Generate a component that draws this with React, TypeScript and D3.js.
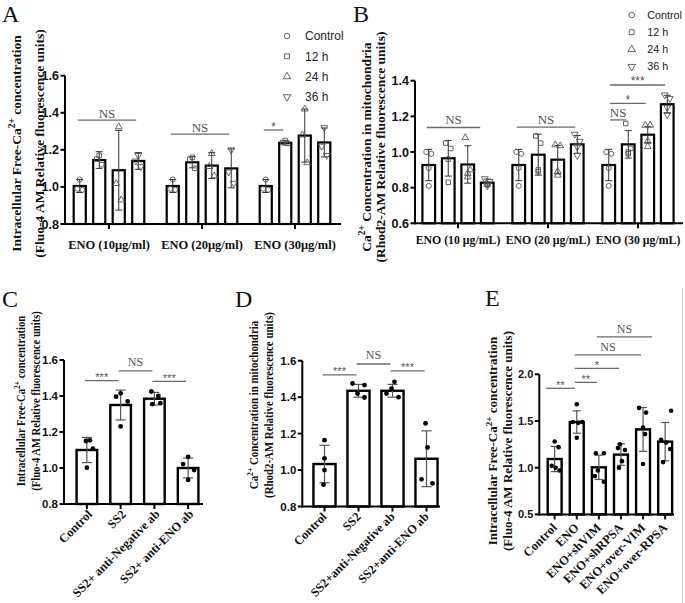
import React from "react";
import * as d3 from "d3";

// ---------------- data ----------------
const groupsA = ["ENO (10μg/ml)", "ENO (20μg/ml)", "ENO (30μg/ml)"];
const groupsB = ["ENO (10 μg/mL)", "ENO (20 μg/mL)", "ENO (30 μg/mL)"];
const timeSeries = ["Control", "12 h", "24 h", "36 h"];

const meansA = [
  [1.005, 1.145, 1.09, 1.14],
  [1.005, 1.133, 1.115, 1.1],
  [1.005, 1.238, 1.277, 1.24],
];
const sdA = [
  [0.035, 0.045, 0.215, 0.045],
  [0.035, 0.03, 0.07, 0.105],
  [0.035, 0.012, 0.143, 0.078],
];
const pointsA = [
  [[1.04, 0.99, 0.985], [1.17, 1.15, 1.12], [1.324, 1.018, 0.93], [1.17, 1.14, 1.11]],
  [[1.04, 0.99, 0.985], [1.16, 1.15, 1.1], [1.18, 1.11, 1.06], [1.2, 1.08, 1.02]],
  [[1.04, 0.99, 0.985], [1.25, 1.24, 1.235], [1.42, 1.28, 1.13], [1.32, 1.22, 1.17]],
];
const sigA = [
  { g: 0, from: 0, to: 3, label: "NS", y: 1.36 },
  { g: 1, from: 0, to: 3, label: "NS", y: 1.285 },
  { g: 2, from: 0, to: 1, label: "*", y: 1.307 },
];
const ticksA = [0.8, 1.0, 1.2, 1.4, 1.6];

const meansB = [
  [0.927, 0.965, 0.93, 0.828],
  [0.927, 0.985, 0.957, 1.043],
  [0.927, 1.043, 1.097, 1.268],
];
const sdB = [
  [0.088, 0.1, 0.105, 0.02],
  [0.088, 0.115, 0.08, 0.05],
  [0.088, 0.077, 0.045, 0.05],
];
const pointsB = [
  [[1.0, 0.99, 0.91, 0.81], [1.05, 1.02, 0.96, 0.83], [1.08, 0.9, 0.88, 0.86], [0.85, 0.835, 0.82, 0.81]],
  [[1.0, 0.99, 0.91, 0.81], [1.09, 1.05, 0.9, 0.89], [1.04, 1.035, 0.89, 0.87], [1.1, 1.06, 1.03, 0.98]],
  [[1.0, 0.99, 0.91, 0.81], [1.16, 1.02, 1.0, 0.99], [1.15, 1.15, 1.06, 1.03], [1.32, 1.3, 1.25, 1.21]],
];
const sigB = [
  { g: 0, from: 0, to: 2.74, label: "NS", y: 1.1375 },
  { g: 1, from: 0, to: 3, label: "NS", y: 1.14 },
  { g: 2, from: 0.17, to: 1, label: "NS", y: 1.18 },
  { g: 2, from: 0.17, to: 2, label: "*", y: 1.273 },
  { g: 2, from: 0.17, to: 3, label: "***", y: 1.376 },
];
const ticksB = [0.6, 0.8, 1.0, 1.2, 1.4];

const catsC = ["Control", "SS2", "SS2+ anti-Negative ab", "SS2+ anti-ENO ab"];
const meansC = [1.1, 1.35, 1.385, 1.0];
const sdC = [0.07, 0.083, 0.035, 0.055];
const pointsC = [
  [1.15, 1.154, 1.108, 1.002],
  [1.415, 1.396, 1.37, 1.231],
  [1.425, 1.4, 1.36, 1.355],
  [1.062, 1.022, 0.989, 0.934],
];
const sigC = [
  { from: 0, to: 1, label: "***", y: 1.485 },
  { from: 1, to: 2, label: "NS", y: 1.54 },
  { from: 2, to: 3, label: "***", y: 1.481 },
];
const ticksC = [0.8, 1.0, 1.2, 1.4, 1.6];

const catsD = ["Control", "SS2", "SS2+anti-Negative ab", "SS2+anti-ENO ab"];
const meansD = [1.033, 1.435, 1.435, 1.062];
const sdD = [0.103, 0.035, 0.035, 0.153];
const pointsD = [
  [1.164, 1.064, 1.0, 0.92],
  [1.475, 1.466, 1.42, 1.398],
  [1.484, 1.447, 1.42, 1.4],
  [1.256, 1.124, 0.949, 0.927],
];
const sigD = [
  { from: 0, to: 1, label: "***", y: 1.522 },
  { from: 1, to: 2, label: "NS", y: 1.582 },
  { from: 2, to: 3, label: "***", y: 1.544 },
];
const ticksD = [0.8, 1.0, 1.2, 1.4, 1.6];

const catsE = ["Control", "ENO", "ENO+shVIM", "ENO+shRPSA", "ENO+over-VIM", "ENO+over-RPSA"];
const meansE = [1.093, 1.489, 1.004, 1.14, 1.41, 1.279];
const sdE = [0.135, 0.12, 0.13, 0.115, 0.235, 0.205];
const pointsE = [
  [1.28, 1.22, 1.02, 1.0, 0.97],
  [1.68, 1.49, 1.48, 1.49, 1.32],
  [1.155, 1.155, 0.97, 0.91, 0.85],
  [1.25, 1.21, 1.19, 1.07, 1.0],
  [1.64, 1.59, 1.43, 1.36, 1.04],
  [1.61, 1.3, 1.27, 1.2, 1.06],
];
const sigE = [
  { from: -0.3, to: 1, label: "**", y: 1.85 },
  { from: 1, to: 2, label: "**", y: 1.914 },
  { from: 1, to: 3, label: "*", y: 2.064 },
  { from: 1, to: 4, label: "NS", y: 2.207 },
  { from: 2, to: 4.5, label: "NS", y: 2.4 },
];
const ticksE = [0.5, 1.0, 1.5, 2.0];

// ---------------- styles ----------------
const SERIF = "'Liberation Serif', 'Times New Roman', serif";
const SANS = "'Liberation Sans', Arial, sans-serif";
const SIG_COLOR = "#6a6a6a";
const fmt = d3.format(".1f");

const symbolTypes = [d3.symbolCircle, d3.symbolSquare, d3.symbolTriangle, d3.symbolTriangle];
const symbolRot = [0, 0, 0, 180];

function Marker({ i, x, y, size }: any) {
  const path = d3.symbol().type(symbolTypes[i]).size(size)() as string;
  return (
    <path
      d={path}
      transform={`translate(${x},${y}) rotate(${symbolRot[i]})`}
      fill="none"
      stroke="#555"
      strokeWidth={0.9}
    />
  );
}

function YLabel({ lines, cy, size, sx }: any) {
  return (
    <g fontFamily={SERIF} fontWeight="bold" fontSize={size} fill="#111">
      {lines.map((l: any, k: number) => (
        <text key={k} transform={`translate(${l.x},${cy}) rotate(-90) scale(${sx},1)`} textAnchor="middle">
          {l.pre}
          {l.sup ? (
            <tspan dy={-size * 0.38} fontSize={size * 0.7}>
              {l.sup}
            </tspan>
          ) : null}
          {l.sup ? <tspan dy={size * 0.38}>{l.post}</tspan> : null}
        </text>
      ))}
    </g>
  );
}

function SigMark({ x1, x2, y, label, nsSize, starSize, nsGap }: any) {
  const isNS = label === "NS";
  return (
    <g>
      <line x1={x1} x2={x2} y1={y} y2={y} stroke={SIG_COLOR} strokeWidth={1.3} />
      <text
        x={(x1 + x2) / 2}
        y={isNS ? y - nsGap : y + 0.5}
        textAnchor="middle"
        fontFamily={isNS ? SERIF : SANS}
        fontSize={isNS ? nsSize : starSize}
        fill="#555"
      >
        {label}
      </text>
    </g>
  );
}

function YAxis({ y, ticks, ax, size }: any) {
  const [b, t] = y.range();
  return (
    <g>
      <line x1={ax} x2={ax} y1={b + 1} y2={t} stroke="#000" strokeWidth={2} />
      {ticks.map((v: number) => (
        <g key={v}>
          <line x1={ax - 4.5} x2={ax} y1={y(v)} y2={y(v)} stroke="#000" strokeWidth={2} />
          <text
            x={ax - 6}
            y={y(v)}
            dy="0.36em"
            textAnchor="end"
            fontFamily={SANS}
            fontWeight="bold"
            fontSize={size}
            fill="#111"
          >
            {fmt(v)}
          </text>
        </g>
      ))}
    </g>
  );
}

function GroupedPanel({ cfg, groups, means, sds, points, sig, ticks }: any) {
  const y = d3.scaleLinear().domain(cfg.yDomain).range([cfg.y0, cfg.y1]);
  const xg = d3.scaleBand().domain(groups).range(cfg.xRange);
  const xi = d3
    .scaleBand()
    .domain(timeSeries)
    .range([-cfg.half, cfg.half])
    .paddingInner(cfg.pad)
    .paddingOuter(cfg.pad / 2);
  const gc = (g: number) => (xg(groups[g]) as number) + xg.bandwidth() / 2;
  const bc = (g: number, i: number) => gc(g) - cfg.half + xi.step() * (i + 0.5);
  const bw = xi.bandwidth();
  const base = y(cfg.yDomain[0]);
  return (
    <g>
      {groups.map((gname: string, g: number) =>
        timeSeries.map((s, i) => {
          const m = means[g][i];
          const sd = sds[g][i];
          const cx = bc(g, i);
          return (
            <g key={gname + s}>
              <rect
                x={(xi(s) as number) + gc(g)}
                y={y(m)}
                width={bw}
                height={base - y(m)}
                fill="#fff"
                stroke="#000"
                strokeWidth={2.2}
              />
              <line x1={cx} x2={cx} y1={y(m - sd)} y2={y(m + sd)} stroke="#333" strokeWidth={1} />
              <line x1={cx - cfg.cap} x2={cx + cfg.cap} y1={y(m + sd)} y2={y(m + sd)} stroke="#333" strokeWidth={1} />
              <line x1={cx - cfg.cap} x2={cx + cfg.cap} y1={y(m - sd)} y2={y(m - sd)} stroke="#333" strokeWidth={1} />
              {points[g][i].map((v: number, k: number) => (
                <Marker key={k} i={i} x={cx + cfg.jitter[k]} y={y(v)} size={cfg.msize} />
              ))}
            </g>
          );
        })
      )}
      <YAxis y={y} ticks={ticks} ax={cfg.ax} size={cfg.tickSize} />
      <line x1={cfg.ax - 1} x2={cfg.axEnd} y1={base} y2={base} stroke="#000" strokeWidth={2} />
      {groups.map((gname: string, g: number) => (
        <g key={gname}>
          <line x1={gc(g)} x2={gc(g)} y1={base} y2={base + 5} stroke="#000" strokeWidth={2} />
          <text
            x={gc(g)}
            y={cfg.xLabelY}
            textAnchor="middle"
            fontFamily={SERIF}
            fontWeight="bold"
            fontSize={cfg.xLabelSize}
            fill="#111"
          >
            {gname}
          </text>
        </g>
      ))}
      {sig.map((s: any, k: number) => (
        <SigMark
          key={k}
          x1={bc(s.g, s.from) - 2}
          x2={bc(s.g, s.to) - 2}
          y={y(s.y)}
          label={s.label}
          nsSize={cfg.nsSize}
          starSize={cfg.starSize}
          nsGap={cfg.nsGap}
        />
      ))}
      {timeSeries.map((s, i) => (
        <g key={s}>
          <Marker i={i} x={cfg.legX} y={cfg.legY + i * cfg.legStep} size={cfg.msize + 4} />
          <text
            x={cfg.legX + cfg.legGap}
            y={cfg.legY + i * cfg.legStep}
            dy="0.36em"
            fontFamily={SANS}
            fontSize={cfg.legSize}
            fill="#222"
          >
            {s}
          </text>
        </g>
      ))}
    </g>
  );
}

function SimplePanel({ cfg, cats, means, sds, points, sig, ticks }: any) {
  const y = d3.scaleLinear().domain(cfg.yDomain).range([cfg.y0, cfg.y1]);
  const x = d3
    .scaleBand()
    .domain(cats)
    .range(cfg.xRange)
    .paddingInner(cfg.pad)
    .paddingOuter(cfg.pad / 2);
  const c = (i: number) => cfg.xRange[0] + x.step() * (i + 0.5);
  const base = y(cfg.yDomain[0]);
  return (
    <g>
      {cats.map((name: string, i: number) => {
        const m = means[i];
        const sd = sds[i];
        const cx = c(i);
        return (
          <g key={name}>
            <rect
              x={x(name)}
              y={y(m)}
              width={x.bandwidth()}
              height={base - y(m)}
              fill="#fff"
              stroke="#000"
              strokeWidth={2.4}
            />
            <line x1={cx} x2={cx} y1={y(m - sd)} y2={y(m + sd)} stroke="#555" strokeWidth={1.2} />
            <line x1={cx - cfg.cap} x2={cx + cfg.cap} y1={y(m + sd)} y2={y(m + sd)} stroke="#555" strokeWidth={1.2} />
            <line x1={cx - cfg.cap} x2={cx + cfg.cap} y1={y(m - sd)} y2={y(m - sd)} stroke="#555" strokeWidth={1.2} />
            {points[i].map((v: number, k: number) => (
              <circle key={k} cx={cx + cfg.jitter[i][k]} cy={y(v)} r={cfg.dot} fill="#000" />
            ))}
          </g>
        );
      })}
      <YAxis y={y} ticks={ticks} ax={cfg.ax} size={cfg.tickSize} />
      <line x1={cfg.ax - 1} x2={cfg.axEnd} y1={base} y2={base} stroke="#000" strokeWidth={2} />
      {cats.map((name: string, i: number) => (
        <g key={name}>
          <line x1={c(i)} x2={c(i)} y1={base} y2={base + 5} stroke="#000" strokeWidth={2} />
          <text
            transform={`translate(${c(i) + cfg.lblDx},${base + cfg.lblDy}) rotate(-45)`}
            textAnchor="end"
            fontFamily={SERIF}
            fontWeight="bold"
            fontSize={cfg.xLabelSize}
            fill="#111"
          >
            {name}
          </text>
        </g>
      ))}
      {sig.map((s: any, k: number) => (
        <SigMark
          key={k}
          x1={c(s.from) - 2}
          x2={c(s.to) - 2}
          y={y(s.y)}
          label={s.label}
          nsSize={cfg.nsSize}
          starSize={cfg.starSize}
          nsGap={cfg.nsGap}
        />
      ))}
    </g>
  );
}

// ---------------- layout configs ----------------
const cfgA = {
  yDomain: [0.8, 1.6], y0: 224, y1: 75.7, xRange: [62.5, 341.5], half: 39, pad: 0.38,
  ax: 65, axEnd: 341, cap: 3.5, msize: 20, jitter: [0, -2.5, 2.5],
  tickSize: 12.5, xLabelY: 249, xLabelSize: 12.5, nsSize: 13, starSize: 12, nsGap: 2.5,
  legX: 287, legY: 36, legStep: 20.3, legSize: 12, legGap: 18,
};
const cfgB = {
  yDomain: [0.6, 1.4], y0: 223.3, y1: 80.7, xRange: [413, 683], half: 39, pad: 0.35,
  ax: 415, axEnd: 683, cap: 3.5, msize: 20, jitter: [-2.5, 2.5, 0, 0],
  tickSize: 12.5, xLabelY: 244, xLabelSize: 11.8, nsSize: 13, starSize: 12, nsGap: 3,
  legX: 631.7, legY: 15, legStep: 17.2, legSize: 10.8, legGap: 15.5,
};
const cfgC = {
  yDomain: [0.8, 1.6], y0: 504, y1: 360, xRange: [70, 205], pad: 0.39,
  ax: 64, axEnd: 203, cap: 5, dot: 2.4,
  jitter: [[-1, 3, 6, 0], [0, -4.5, 7, 0], [-3, 4, 6, -2], [0, -5, 6, 0]],
  tickSize: 11.5, xLabelSize: 12.4, lblDx: 6, lblDy: 11, nsSize: 12, starSize: 11, nsGap: 4.5,
};
const cfgD = {
  yDomain: [0.8, 1.6], y0: 506.5, y1: 360.7, xRange: [307.5, 443.5], pad: 0.35,
  ax: 302.3, axEnd: 440, cap: 5, dot: 2.4,
  jitter: [[0, 0, 0, -1], [-6, 6, -1, 6], [2, -1, -6, 6], [-1, 1, -5, 6]],
  tickSize: 11.5, xLabelSize: 12.3, lblDx: 3, lblDy: 11, nsSize: 12, starSize: 11, nsGap: 4.5,
};
const cfgE = {
  yDomain: [0.5, 2.0], y0: 514.4, y1: 374.3, xRange: [543.6, 676.2], pad: 0.37,
  ax: 539.3, axEnd: 674, cap: 4, dot: 2.3,
  jitter: [[0, 4, -3, 1, 5], [0, -4, 1.5, 5.5, 0], [-3, 5, -1, -4, 5], [-1, -3, 4, 1, -2], [-4, 3, 0, 2, 0], [6, -4, 1, 5, -2]],
  tickSize: 11, xLabelSize: 12.5, lblDx: 3, lblDy: 14, nsSize: 12, starSize: 11, nsGap: 4,
};

const letterStyle = { fontFamily: SERIF, fontSize: 24, fill: "#111" } as any;

export default function App() {
  return (
    <svg
      width={685}
      height={603}
      viewBox="0 0 685 603"
      style={{ position: "absolute", left: 0, top: 0, background: "#fff", display: "block" }}
    >
      <rect x={0} y={0} width={685} height={603} fill="#fff" />
      <text x={2} y={22} {...letterStyle}>A</text>
      <text x={353} y={22} {...letterStyle}>B</text>
      <text x={2} y={307} {...letterStyle}>C</text>
      <text x={235} y={307} {...letterStyle}>D</text>
      <text x={485} y={306} {...letterStyle}>E</text>

      <YLabel
        size={13.5}
        sx={1}
        cy={143.5}
        lines={[
          { x: 20.5, pre: "Intracellular Free-Ca", sup: "2+", post: " concentration" },
          { x: 43.5, pre: "(Fluo-4 AM Relative fluorescence units)" },
        ]}
      />
      <GroupedPanel cfg={cfgA} groups={groupsA} means={meansA} sds={sdA} points={pointsA} sig={sigA} ticks={ticksA} />

      <YLabel
        size={13.5}
        sx={1}
        cy={147}
        lines={[
          { x: 370.5, pre: "Ca", sup: "2+", post: " Concentration in mitochondria" },
          { x: 384.5, pre: "(Rhod2-AM Relative fluorescence units)" },
        ]}
      />
      <GroupedPanel cfg={cfgB} groups={groupsB} means={meansB} sds={sdB} points={pointsB} sig={sigB} ticks={ticksB} />

      <YLabel
        size={12.5}
        sx={0.85}
        cy={401}
        lines={[
          { x: 25, pre: "Intracellular Free-Ca", sup: "2+", post: " concentration" },
          { x: 39.5, pre: "(Fluo-4 AM Relative fluorescence units)" },
        ]}
      />
      <SimplePanel cfg={cfgC} cats={catsC} means={meansC} sds={sdC} points={pointsC} sig={sigC} ticks={ticksC} />

      <YLabel
        size={12.5}
        sx={0.87}
        cy={405}
        lines={[
          { x: 258, pre: "Ca", sup: "2+", post: " Concentration in mitochondria" },
          { x: 272.5, pre: "(Rhod2-AM Relative fluorescence units)" },
        ]}
      />
      <SimplePanel cfg={cfgD} cats={catsD} means={meansD} sds={sdD} points={pointsD} sig={sigD} ticks={ticksD} />

      <YLabel
        size={13}
        sx={1}
        cy={441}
        lines={[
          { x: 497, pre: "Intracellular Free-Ca", sup: "2+", post: " concentration" },
          { x: 511.5, pre: "(Fluo-4 AM Relative fluorescence units)" },
        ]}
      />
      <SimplePanel cfg={cfgE} cats={catsE} means={meansE} sds={sdE} points={pointsE} sig={sigE} ticks={ticksE} />

      <line x1={682.5} x2={682.5} y1={288} y2={603} stroke="#d0d0d0" strokeWidth={1} />
    </svg>
  );
}
